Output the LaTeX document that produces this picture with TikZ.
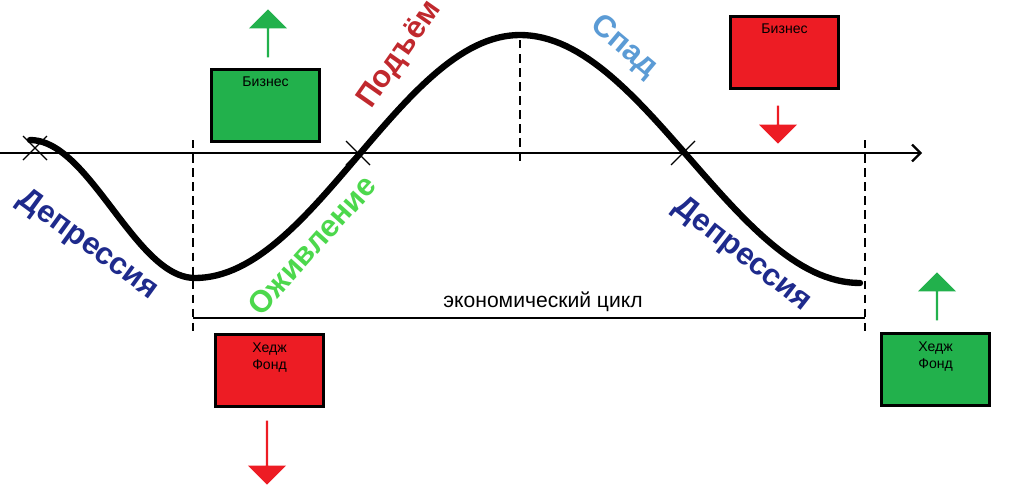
\documentclass[tikz,border=0pt]{standalone}
\usepackage{fontspec}
\setmainfont{Liberation Sans}
\usepackage{tikz}
\usetikzlibrary{arrows.meta,shapes.arrows}
\definecolor{boxgreen}{HTML}{22B14C}
\definecolor{boxred}{HTML}{ED1C24}
\definecolor{darkblue}{HTML}{1E2A8C}
\definecolor{lightgreen}{HTML}{4CD84C}
\definecolor{wordred}{HTML}{C0282D}
\definecolor{skyblue}{HTML}{5B9BD5}
\tikzset{
  phase/.style={font=\bfseries\fontsize{22}{24}\selectfont, inner sep=0pt},
  infobox/.style={draw=black, line width=2.2pt, minimum width=2.7cm, minimum height=1.8cm,
    inner sep=3pt, align=left, font=\fontsize{10}{12}\selectfont},
  fatup/.style={single arrow, draw=none, fill=#1, shape border rotate=90,
    minimum height=1.2cm, minimum width=0.95cm, single arrow head extend=0.12cm, inner sep=0pt},
  fatdown/.style={fatup=#1, shape border rotate=270},
  guide/.style={dashed, line width=1.1pt, dash pattern=on 6pt off 4pt},
  cross/.style={line width=0.8pt}
}
\begin{document}
\begin{tikzpicture}[x=0.025cm, y=-0.025cm]
  \useasboundingbox (0,0) rectangle (1020,501);
  % axis
  \coordinate (axS) at (0,153);
  \coordinate (axE) at (922,153);
  \draw[line width=1.6pt, -{Straight Barb[length=6pt,width=12pt]}] (axS) -- (axE);
  % cycle curve
  \draw[line width=4.5pt, line cap=round]
    plot[domain=30:195, samples=40] (\x, {209-69*cos((\x-30)/165*180)})
    -- plot[domain=195:520, samples=60] (\x, {156.5+121.5*cos((\x-195)/325*180)})
    -- plot[domain=520:860, samples=60] (\x, {159-124*cos((\x-520)/340*180)});
  % crossings
  \foreach \cx/\cy in {35/148, 358/153, 683/153}
    \draw[cross] (\cx-12,\cy-12) -- (\cx+12,\cy+12) (\cx-12,\cy+12) -- (\cx+12,\cy-12);
  % dashed guides
  \coordinate (gA) at (193,140); \coordinate (gAb) at (193,332);
  \coordinate (gB) at (520,40);  \coordinate (gBb) at (520,162);
  \coordinate (gC) at (865,140); \coordinate (gCb) at (865,332);
  \draw[guide] (gA) -- (gAb);
  \draw[guide] (gB) -- (gBb);
  \draw[guide] (gC) -- (gCb);
  % cycle span
  \coordinate (spA) at (193,318);
  \coordinate (spB) at (865,318);
  \draw[line width=1.3pt] (spA) -- (spB);
  \node[font=\fontsize{15}{17}\selectfont] (cycle) at (543,302) {экономический цикл};
  % phase words
  \node[phase, darkblue, rotate=-36] (dep1) at (88,245) {Депрессия};
  \node[phase, lightgreen, rotate=48] (ozh) at (312,245) {Оживление};
  \node[phase, wordred, rotate=55] (pod) at (400,55) {Подъём};
  \node[phase, skyblue, rotate=-40] (spad) at (624,47) {Спад};
  \node[phase, darkblue, rotate=-38] (dep2) at (742,255) {Депрессия};
  % boxes
  \node[infobox, fill=boxgreen, anchor=north west] (bizUp) at (210,68) {Бизнес\\[2.2em]};
  \node[infobox, fill=boxred, anchor=north west] (bizDn) at (729,15) {Бизнес\\[2.2em]};
  \node[infobox, fill=boxred, anchor=north west] (hedgeDn) at (214,333) {Хедж\\Фонд\\[0.9em]};
  \node[infobox, fill=boxgreen, anchor=north west] (hedgeUp) at (880,332) {Хедж\\Фонд\\[0.9em]};
  % arrows
  \node[fatup=boxgreen] (arBizUp) at (268,34) {};
  \node[fatdown=boxred, minimum height=0.95cm] (arBizDn) at (778,124) {};
  \node[fatdown=boxred, minimum height=1.6cm] (arHedgeDn) at (267,452) {};
  \node[fatup=boxgreen] (arHedgeUp) at (937,297) {};
\end{tikzpicture}
\end{document}
